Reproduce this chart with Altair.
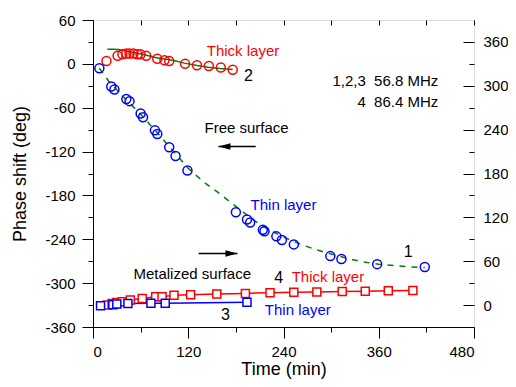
import altair as alt
import pandas as pd

# ---------------- data ----------------
# curve 1: free surface, thin layer (blue circles) + dashed green fit
t1 = [8, 23, 27, 42, 46, 60, 63, 78, 81, 96, 104, 119, 180, 194, 198, 214, 216, 231, 238, 253, 299, 313, 358, 418]
p1 = [-6, -31, -35, -48, -51, -68, -73, -91, -96, -114, -126, -146, -203, -213, -217, -227, -229, -236, -241, -247, -263, -267, -274, -278]
fit1_t = [8, 20, 40, 60, 80, 100, 120, 140, 160, 180, 200, 220, 240, 260, 280, 300, 320, 340, 360, 380, 400, 418]
fit1_p = [-6, -24, -47, -69, -93, -118, -143, -162, -178, -195, -212, -226, -237, -246, -254, -260, -266, -271, -274, -276, -278, -278.5]

# curve 2: free surface, thick layer (red circles) + solid green fit
t2 = [17, 31, 37, 42, 46, 51, 56, 60, 67, 81, 90, 96, 116, 131, 146, 161, 176]
p2 = [4, 11, 13, 14, 14, 14, 13, 13, 11, 7, 5, 4, 0, -2, -3, -5, -8]
fit2_t = [18, 25, 32, 40, 50, 60, 70, 80, 90, 102, 115, 131, 145, 160, 176]
fit2_p = [20, 20, 19.5, 18, 16, 13.6, 11, 8.5, 6.5, 4.5, 1, -2.3, -4.5, -6.3, -7.8]

# curve 3: metalized surface, thin layer (blue squares)
t3 = [9.5, 25, 30, 44, 73, 91, 194]
p3 = [-331, -329.5, -328.5, -328, -327.5, -327.5, -326]

# curve 4: metalized surface, thick layer (red squares)
t4 = [18, 24, 30, 37, 47, 62, 79, 87, 102, 123, 156, 192, 223, 253, 282, 314, 343, 372, 403]
p4 = [-330, -328, -326.5, -325.5, -323, -321, -318.5, -318.5, -316.5, -316, -315, -314, -313, -312.5, -312, -311.5, -311, -310.5, -310]

# annotations (centered)
ann_text = ["Thick layer", "2", "Free surface", "Thin layer", "1",
            "Metalized surface", "4", "Thick layer", "3", "Thin layer"]
ann_t = [189, 196, 193.5, 240, 397, 125, 234, 296, 167, 258]
ann_p = [18, -17, -88, -192.5, -257, -288, -293.5, -292, -343.6, -337]
ann_color = ["red", "black", "black", "blue", "black", "black", "black", "red", "black", "blue"]
ann_size = [15, 16, 15, 15, 16, 15, 16, 15, 16, 15]

# frequency notes (right aligned)
NB = "\u00a0"
freq_text = ["1,2,3" + NB + NB + "56.8 MHz", "4" + NB + NB + "86.4 MHz"]
freq_t = [435, 435]
freq_p = [-24, -52.4]

# arrows (tail, tip, level)
arrow_tail = [205, 133]
arrow_tip = [158, 182]
arrow_p = [-113, -259.4]
arrow_dir = ["left", "right"]

# axis tick values
x_major = [0, 120, 240, 360, 480]
x_minor = [60, 180, 300, 420]
x_top = [0, 60, 120, 180, 240, 300, 360, 420, 480]
y_major = [-360, -300, -240, -180, -120, -60, 0, 60]
y_minor = [-330, -270, -210, -150, -90, -30, 30]
right_offset = 330
yr_major = [-330, -270, -210, -150, -90, -30, 30]   # shown as 0..360
yr_minor = [-300, -240, -180, -120, -60, 0]

# ---------------- chart ----------------
FONT = "Liberation Sans"
GREEN = "#008000"
XS = alt.Scale(domain=[0, 480], nice=False, zero=False)
YS = alt.Scale(domain=[-360, 60], nice=False, zero=False)

common_ax = dict(grid=False, domainColor="black", tickColor="black", labelColor="black",
                 titleColor="black", labelFont=FONT, titleFont=FONT, labelFontSize=15,
                 titleFontSize=18, titleFontWeight="normal", domainWidth=1, tickWidth=1)

ax_x_major = alt.Axis(orient="bottom", values=x_major, tickSize=11, labelPadding=6,
                      title="Time (min)", titlePadding=1, **common_ax)
ax_x_minor = alt.Axis(orient="bottom", values=x_minor, tickSize=5, labels=False,
                      domain=False, title=None, **common_ax)
ax_x_top = alt.Axis(orient="top", values=x_top, tickSize=5, offset=-5, labels=False,
                    domain=False, title=None, **common_ax)
ax_y_major = alt.Axis(orient="left", values=y_major, tickSize=11, labelPadding=7,
                      labelExpr="'' + datum.value",
                      title="Phase shift (deg)", titlePadding=15, **common_ax)
ax_y_minor = alt.Axis(orient="left", values=y_minor, tickSize=5, labels=False,
                      domain=False, title=None, **common_ax)
ax_yr_major = alt.Axis(orient="right", values=yr_major, tickSize=11, offset=-11,
                       labelExpr=f"'' + (datum.value + {right_offset})", labelPadding=9,
                       domain=False, title=None, **common_ax)
ax_yr_minor = alt.Axis(orient="right", values=yr_minor, tickSize=5, offset=-5,
                       labels=False, domain=False, title=None, **common_ax)


def X(axis=None):
    if axis is None:
        return alt.X("t:Q", scale=XS, axis=None)
    return alt.X("t:Q", scale=XS, axis=axis)


def Y(axis=None):
    if axis is None:
        return alt.Y("p:Q", scale=YS, axis=None)
    return alt.Y("p:Q", scale=YS, axis=axis)


d1 = pd.DataFrame({"t": t1, "p": p1})
f1 = pd.DataFrame({"t": fit1_t, "p": fit1_p})
d2 = pd.DataFrame({"t": t2, "p": p2})
f2 = pd.DataFrame({"t": fit2_t, "p": fit2_p})
d3 = pd.DataFrame({"t": t3, "p": p3})
d4 = pd.DataFrame({"t": t4, "p": p4})
ann = pd.DataFrame({"t": ann_t, "p": ann_p, "text": ann_text, "color": ann_color, "size": ann_size})
freq = pd.DataFrame({"t": freq_t, "p": freq_p, "text": freq_text})
arr = pd.DataFrame({"t": arrow_tail, "t2": arrow_tip, "p": arrow_p, "dir": arrow_dir})

fit2_line = alt.Chart(f2).mark_line(color=GREEN, strokeWidth=1.5).encode(
    x=X(ax_x_major), y=Y(ax_y_major))
fit1_line = alt.Chart(f1).mark_line(color=GREEN, strokeWidth=1.5, strokeDash=[6, 6]).encode(
    x=X(ax_x_minor), y=Y(ax_y_minor))
line4 = alt.Chart(d4).mark_line(color="red", strokeWidth=1.5).encode(
    x=X(ax_x_top), y=Y(ax_yr_major))
line3 = alt.Chart(d3).mark_line(color="blue", strokeWidth=1.5).encode(
    x=X(), y=Y(ax_yr_minor))
sq4 = alt.Chart(d4).mark_point(shape="square", filled=True, fill="white", stroke="red",
                               strokeWidth=1.5, size=64, opacity=1).encode(x=X(), y=Y())
sq3 = alt.Chart(d3).mark_point(shape="square", filled=True, fill="white", stroke="blue",
                               strokeWidth=1.5, size=64, opacity=1).encode(x=X(), y=Y())
c2 = alt.Chart(d2).mark_point(shape="circle", filled=False, color="red",
                              strokeWidth=1.5, size=81, opacity=1).encode(x=X(), y=Y())
c1 = alt.Chart(d1).mark_point(shape="circle", filled=False, color="blue",
                              strokeWidth=1.5, size=81, opacity=1).encode(x=X(), y=Y())

texts = alt.Chart(ann).mark_text(font=FONT, baseline="middle", align="center").encode(
    x=X(), y=Y(), text="text:N",
    color=alt.Color("color:N", scale=None),
    size=alt.Size("size:Q", scale=None),
)
freq_texts = alt.Chart(freq).mark_text(font=FONT, baseline="middle", align="right",
                                       fontSize=15, color="black").encode(
    x=X(), y=Y(), text="text:N")

arrow_lines = alt.Chart(arr).mark_rule(color="black", strokeWidth=1.5).encode(
    x=X(), x2="t2:Q", y=Y())
heads_l = alt.Chart(arr[arr["dir"] == "left"]).mark_point(
    shape="M 0 0 L 2 -0.55 L 2 0.55 Z", filled=True, color="black", size=144, opacity=1
).encode(x=alt.X("t2:Q", scale=XS, axis=None), y=Y())
heads_r = alt.Chart(arr[arr["dir"] == "right"]).mark_point(
    shape="M 0 0 L -2 -0.55 L -2 0.55 Z", filled=True, color="black", size=144, opacity=1
).encode(x=alt.X("t2:Q", scale=XS, axis=None), y=Y())

chart = alt.layer(
    fit2_line, fit1_line, line4, line3, sq4, sq3, c2, c1, texts, freq_texts,
    arrow_lines, heads_l, heads_r
).resolve_axis(x="independent", y="independent").properties(
    width=381, height=307,
    autosize=alt.AutoSizeParams(type="none"),
    padding={"left": 85, "top": 12, "right": 34, "bottom": 52},
).configure_view(stroke="black", strokeWidth=1).configure(font=FONT)

chart.save("out.html", embed_options={"renderer": "svg", "actions": False})
